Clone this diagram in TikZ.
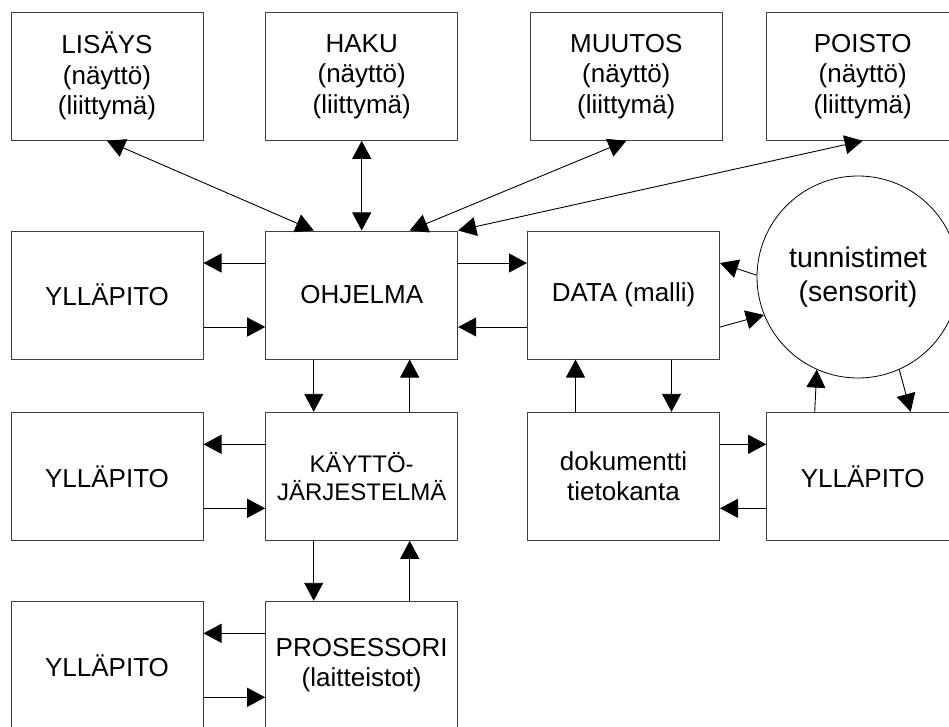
\documentclass[tikz,border=0pt]{standalone}
\usepackage{fontspec}
\setmainfont{Liberation Sans}
\usetikzlibrary{arrows.meta}
\tikzset{
  box/.style={draw=black!75, line width=1pt, minimum width=192pt, minimum height=128pt,
    inner sep=0pt, align=center, font=\fontsize{26}{30.5}\selectfont},
  sensor/.style={draw=black, line width=0.8pt, circle, minimum size=202pt, inner sep=0pt,
    align=center, font=\fontsize{28.5}{33.5}\selectfont},
  conn/.style={line width=0.9pt, -{Triangle[length=18pt,width=19pt]}},
  dconn/.style={line width=0.9pt, {Triangle[length=18pt,width=19pt]}-{Triangle[length=18pt,width=19pt]}}
}
\begin{document}
\begin{tikzpicture}[x=1pt,y=-1pt]
\useasboundingbox (0,0) rectangle (949,727);
\clip (0,0) rectangle (949,727);
\fill[white] (0,0) rectangle (949,727);
% nodes
\node[box] (lis) at (107,76.3) {LISÄYS\\(näyttö)\\(liittymä)};
\node[box] (hak) at (361.7,76.3) {HAKU\\(näyttö)\\(liittymä)};
\node[box] (muu) at (626.3,76.3) {MUUTOS\\(näyttö)\\(liittymä)};
\node[box] (poi) at (862.7,76.3) {POISTO\\(näyttö)\\(liittymä)};
\node[box] (yl1) at (107,295) {YLLÄPITO};
\node[box] (ohj) at (361.7,295) {OHJELMA};
\node[box] (dat) at (623.5,295) {DATA (malli)};
\node[sensor] (sen) at (858,277) {tunnistimet\\(sensorit)};
\node[box] (yl2) at (107,476.3) {YLLÄPITO};
\node[box, font=\fontsize{24}{28}\selectfont] (kay) at (361.7,476.3) {KÄYTTÖ-\\JÄRJESTELMÄ};
\node[box] (dok) at (623.5,476.3) {dokumentti\\tietokanta};
\node[box] (yl4) at (862.7,476.3) {YLLÄPITO};
\node[box] (yl3) at (107,665.3) {YLLÄPITO};
\node[box] (pro) at (361.7,665.3) {PROSESSORI\\(laitteistot)};
% top connectors
\draw[dconn] (lis.south) -- ([xshift=-48pt]ohj.north);
\draw[dconn] (hak.south) -- (ohj.north);
\draw[dconn] (muu.south) -- ([xshift=48pt]ohj.north);
\draw[dconn] (poi.south) -- (ohj.north east);
% ohjelma row
\draw[conn] ([yshift=32pt]ohj.west) -- ([yshift=32pt]yl1.east);
\draw[conn] ([yshift=-32pt]yl1.east) -- ([yshift=-32pt]ohj.west);
\draw[conn] ([yshift=32pt]ohj.east) -- ([yshift=32pt]dat.west);
\draw[conn] ([yshift=-32pt]dat.west) -- ([yshift=-32pt]ohj.east);
\draw[conn] (sen.179) -- ([yshift=32pt]dat.east);
\draw[conn] ([yshift=-32pt]dat.east) -- (sen.202);
% ohjelma - kayttojarjestelma
\draw[conn] ([xshift=-48pt]ohj.south) -- ([xshift=-48pt]kay.north);
\draw[conn] ([xshift=48pt]kay.north) -- ([xshift=48pt]ohj.south);
% kayttojarjestelma row
\draw[conn] ([yshift=32pt]kay.west) -- ([yshift=32pt]yl2.east);
\draw[conn] ([yshift=-32pt]yl2.east) -- ([yshift=-32pt]kay.west);
% data - dokumentti
\draw[conn] ([xshift=-48pt]dok.north) -- ([xshift=-48pt]dat.south);
\draw[conn] ([xshift=48pt]dat.south) -- ([xshift=48pt]dok.north);
% dokumentti - yllapito right
\draw[conn] ([yshift=32pt]dok.east) -- ([yshift=32pt]yl4.west);
\draw[conn] ([yshift=-32pt]yl4.west) -- ([yshift=-32pt]dok.east);
% yllapito right - sensor
\draw[conn] ([xshift=-48pt]yl4.north) -- (sen.246);
\draw[conn] (sen.294) -- ([xshift=48pt]yl4.north);
% kayttojarjestelma - prosessori
\draw[conn] ([xshift=-48pt]kay.south) -- ([xshift=-48pt]pro.north);
\draw[conn] ([xshift=48pt]pro.north) -- ([xshift=48pt]kay.south);
% prosessori row
\draw[conn] ([yshift=32pt]pro.west) -- ([yshift=32pt]yl3.east);
\draw[conn] ([yshift=-32pt]yl3.east) -- ([yshift=-32pt]pro.west);
\end{tikzpicture}
\end{document}
